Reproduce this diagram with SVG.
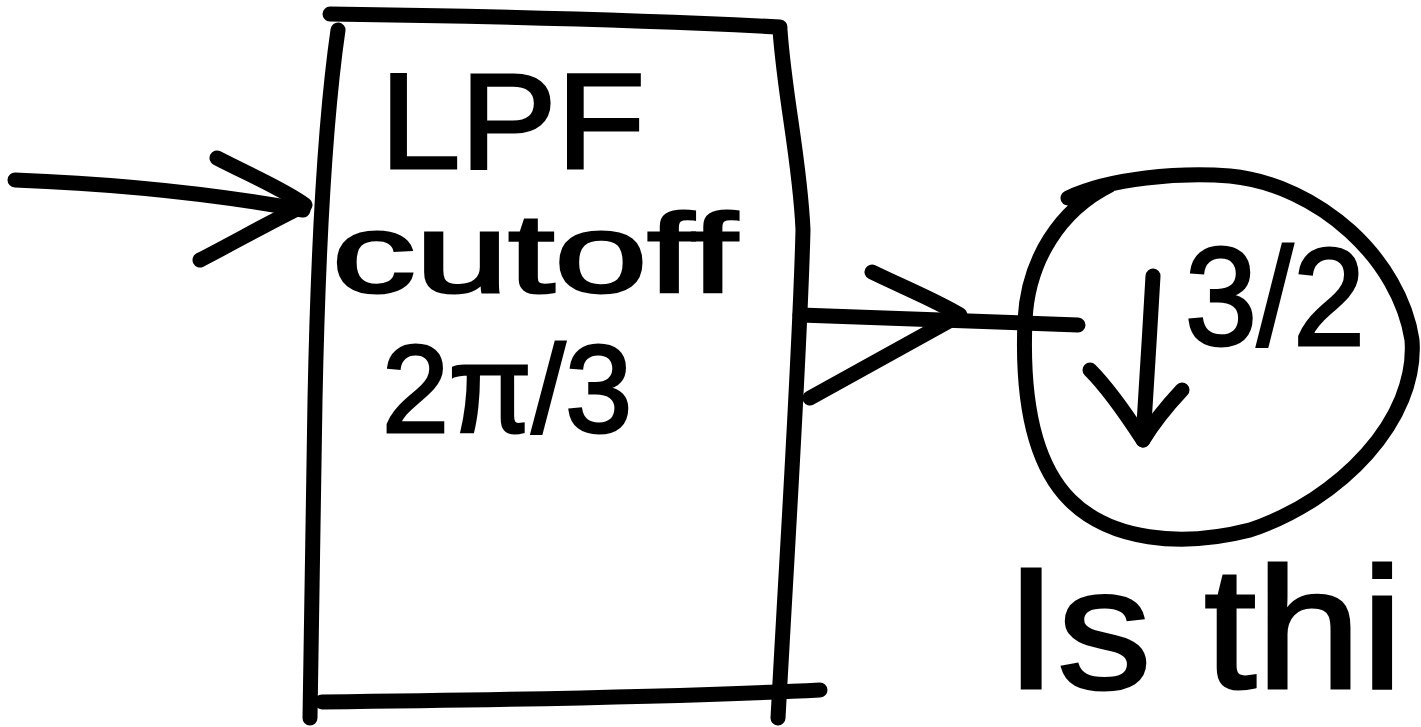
<svg xmlns="http://www.w3.org/2000/svg" width="1421" height="727" viewBox="0 0 1421 727">
<style>
.ink{fill:none;stroke:#000;stroke-width:15;stroke-linecap:round;stroke-linejoin:round}
.hand{font-family:"Liberation Sans","DejaVu Sans",sans-serif;fill:#000;stroke:#000;stroke-width:3;font-weight:normal}
</style>
<rect width="1421" height="727" fill="#fff"/>
<g id="connectors">
<path class="ink" d="M15,180 C120,184 220,195 303,210"/>
<path class="ink" d="M217,158 C250,175 285,190 305,205 C270,222 235,242 200,260"/>
<path class="ink" d="M800,315 C900,318 1000,322 1078,325"/>
<path class="ink" d="M872,272 C905,288 935,300 960,315 C910,343 860,370 810,398"/>
</g>
<g id="lpf">
<path class="ink" d="M330,14 C480,16 640,20 780,27"/>
<path class="ink" d="M338,30 C325,120 318,250 315,400 C313,520 311,640 310,718"/>
<path class="ink" d="M780,30 C785,100 800,160 803,230 C800,350 790,500 778,718"/>
<path class="ink" d="M322,702 C500,700 680,697 820,690"/>
<text class="hand" x="380" y="168" font-size="135" textLength="265" lengthAdjust="spacingAndGlyphs">LPF</text>
<text class="hand" x="332" y="292" font-size="112" textLength="405" lengthAdjust="spacingAndGlyphs">cutoff</text>
<text class="hand" x="382" y="432" font-size="125" textLength="250" lengthAdjust="spacingAndGlyphs">2π/3</text>
</g>
<g id="downsample">
<path class="ink" d="M1068,198 C1110,178 1180,172 1230,176 C1320,185 1400,260 1412,340 C1418,420 1340,500 1250,530 C1180,548 1110,540 1070,500 C1030,460 1022,390 1025,320 C1028,260 1060,210 1110,185"/>
<path class="ink" d="M1153,276 C1150,330 1146,390 1143,440"/>
<path class="ink" d="M1090,370 C1110,390 1130,420 1143,440 C1155,420 1168,405 1182,390"/>
<text class="hand" x="1185" y="345" font-size="140" textLength="180" lengthAdjust="spacingAndGlyphs">3/2</text>
</g>
<g id="note">
<text class="hand" x="1005" y="688" font-size="172" textLength="398" lengthAdjust="spacingAndGlyphs">Is thi</text>
</g>
</svg>
